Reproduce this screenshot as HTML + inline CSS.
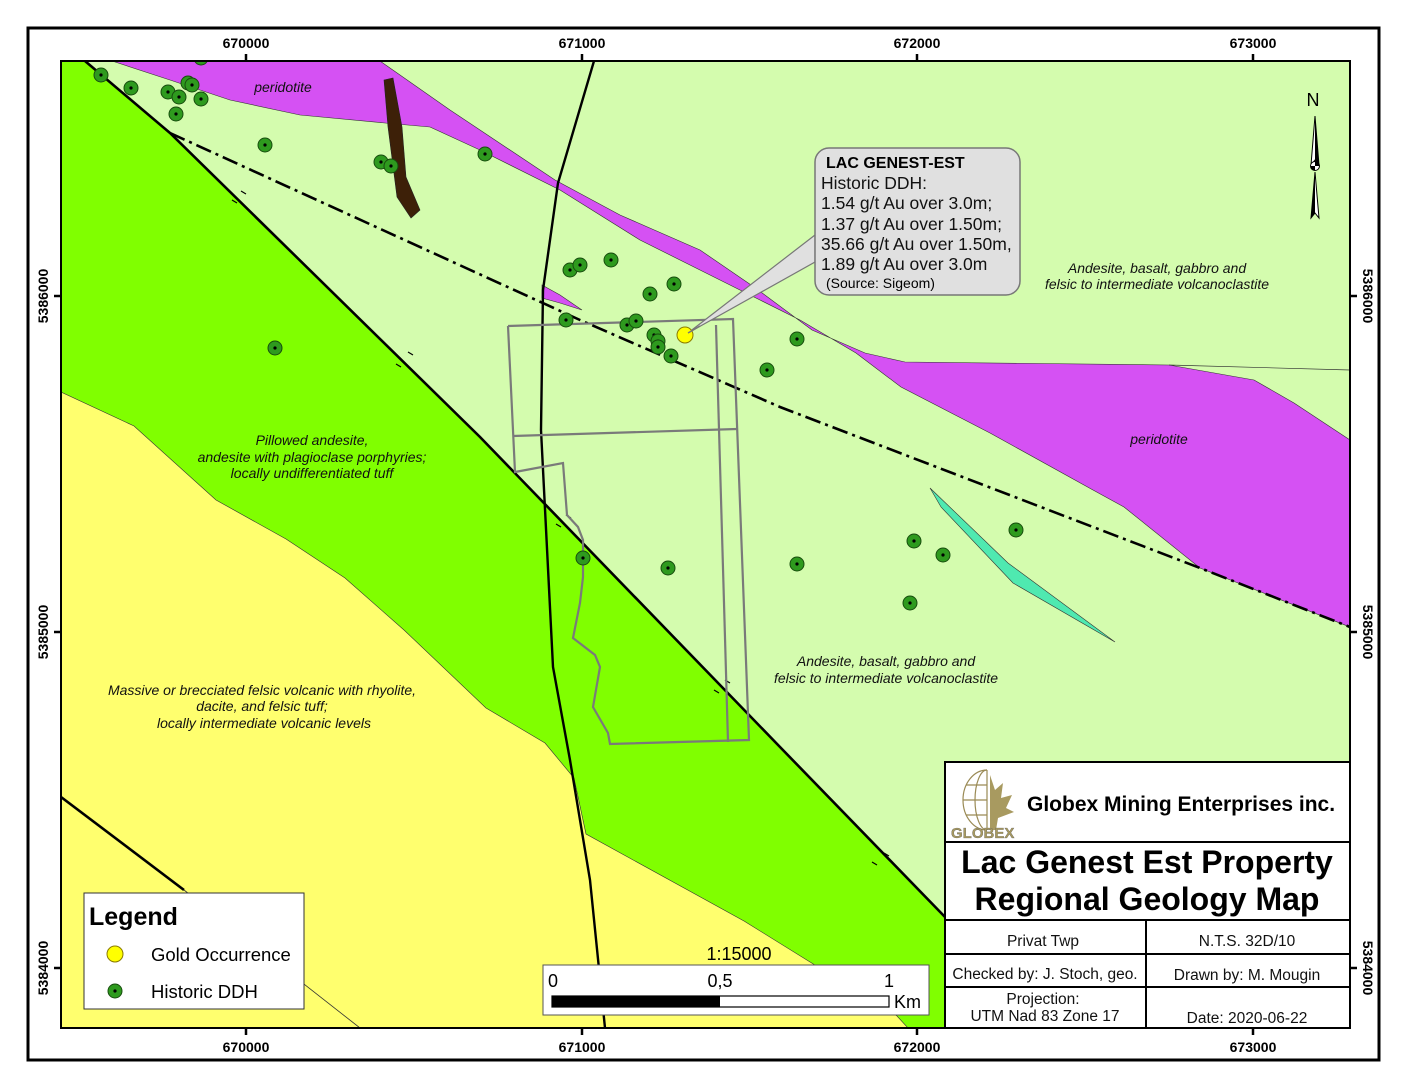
<!DOCTYPE html>
<html><head><meta charset="utf-8"><style>
html,body{margin:0;padding:0;background:#fff;}
svg{display:block;}
text{font-family:"Liberation Sans",sans-serif;}
.it{font-style:italic;font-size:14px;fill:#111;}
.cl{font-size:14px;font-weight:bold;fill:#000;}
</style></head><body>
<svg width="1408" height="1088" viewBox="0 0 1408 1088" xmlns="http://www.w3.org/2000/svg">
<defs>
<clipPath id="map"><rect x="61" y="61" width="1289" height="967"/></clipPath>
<g id="dh"><circle r="7" fill="#2e9a1e" stroke="#174d0e" stroke-width="1"/><circle r="1.6" fill="#000"/></g>
</defs>
<rect x="0" y="0" width="1408" height="1088" fill="#fff"/>
<g clip-path="url(#map)">
<rect x="61" y="61" width="1289" height="967" fill="#d4fcae"/>
<polygon points="61,61 85,61 170,133 480,437 780,747 945,917 945,1028 908,1028 897,1016 744,921 586,834 574,778 545,743 486,708 404,630 345,578 286,539 216,500 134,426 61,392" fill="#80ff00"/>
<polygon points="61,392 134,426 216,500 286,539 345,578 404,630 486,708 545,743 574,778 586,834 744,921 897,1016 908,1028 61,1028" fill="#ffff6e" stroke="#333" stroke-width="0.6"/>
<polygon points="112,61 380,61 400,75 450,110 555,180 620,215 700,250 754,287 812,330 865,353 905,362 1169,365 1254,380 1294,403 1350,440 1350,627 1200,568 1124,507 1093,490 990,433 901,387 856,353 800,320 760,300 700,270 640,240 560,190 480,150 430,127 385,123 300,115 230,100 170,80" fill="#d551f3" stroke="#333" stroke-width="0.6"/>
<polygon points="542,285 560,295 582,310 560,303 542,298" fill="#d551f3" stroke="#333" stroke-width="0.6"/>
<polyline points="1169,365 1350,370" fill="none" stroke="#333" stroke-width="0.7"/>
<polygon points="930,488 1008,563 1115,642 1013,583 941,507" fill="#4fe9b0" stroke="#333" stroke-width="0.6"/>
<polygon points="384,80 393,78 402,127 406,177 420,210 411,218 397,197 388,127" fill="#3d2008" stroke="#222" stroke-width="0.6"/>
<polyline points="85,61 170,133 480,437 780,747 945,917" fill="none" stroke="#000" stroke-width="2.6"/>
<polyline points="594,61 558,183 543,290 541,430 553,667 570,760 590,880 605,1028" fill="none" stroke="#000" stroke-width="2.4"/>
<polyline points="61,797 184,890" fill="none" stroke="#000" stroke-width="2.6"/>
<polyline points="184,890 360,1028" fill="none" stroke="#333" stroke-width="0.8"/>
<polyline points="170,133 580,320 780,407 1200,568 1350,627" fill="none" stroke="#000" stroke-width="2.6" stroke-dasharray="16,5,3,5"/>
<g stroke="#000" stroke-width="1.2" fill="none">
<path d="M241,191 l5,3 M232,200 l5,3 M408,352 l5,3 M396,364 l5,3 M566,515 l5,3 M556,524 l5,3 M725,680 l5,3 M714,690 l5,3 M884,853 l5,3 M872,862 l5,3"/>
</g>
<g fill="none" stroke="#7a7a7a" stroke-width="2.2">
<polyline points="508,326 733,319 749,740 610,744 608,733 593,707 600,667 595,655 573,638 580,603 583,577 583,540 578,527 567,515 563,463 515,472 508,326"/>
<polyline points="513,436 737,429"/>
<polyline points="716,325 728,742"/>
</g>
<polygon points="815,235 815,262 688,333" fill="#e0e0e0" stroke="#777" stroke-width="1.2"/>
<rect x="815" y="148" width="205" height="147" rx="14" fill="#e0e0e0" stroke="#777" stroke-width="1.5"/>
<rect x="816" y="236" width="4" height="25" fill="#e0e0e0"/>
<text x="826" y="168" style="font-weight:bold;font-size:16px">LAC GENEST-EST</text>
<g style="font-size:17.5px" fill="#111">
<text x="821" y="189">Historic DDH:</text>
<text x="821" y="209">1.54 g/t Au over 3.0m;</text>
<text x="821" y="230">1.37 g/t Au over 1.50m;</text>
<text x="821" y="250">35.66 g/t Au over 1.50m,</text>
<text x="821" y="270">1.89 g/t Au over 3.0m</text>
</g>
<text x="826" y="288" style="font-size:14px">(Source: Sigeom)</text>
<g>
<use href="#dh" x="101" y="75"/><use href="#dh" x="131" y="88"/><use href="#dh" x="168" y="92"/><use href="#dh" x="179" y="97"/><use href="#dh" x="188" y="83"/><use href="#dh" x="192" y="85"/><use href="#dh" x="201" y="99"/><use href="#dh" x="176" y="114"/><use href="#dh" x="201" y="58"/><use href="#dh" x="265" y="145"/><use href="#dh" x="381" y="162"/><use href="#dh" x="391" y="166"/><use href="#dh" x="485" y="154"/><use href="#dh" x="570" y="270"/><use href="#dh" x="580" y="265"/><use href="#dh" x="611" y="260"/><use href="#dh" x="650" y="294"/><use href="#dh" x="674" y="284"/><use href="#dh" x="566" y="320"/><use href="#dh" x="627" y="325"/><use href="#dh" x="636" y="321"/><use href="#dh" x="654" y="335"/><use href="#dh" x="658" y="341"/><use href="#dh" x="658" y="347"/><use href="#dh" x="671" y="356"/><use href="#dh" x="275" y="348"/><use href="#dh" x="767" y="370"/><use href="#dh" x="797" y="339"/><use href="#dh" x="914" y="541"/><use href="#dh" x="943" y="555"/><use href="#dh" x="1016" y="530"/><use href="#dh" x="797" y="564"/><use href="#dh" x="910" y="603"/><use href="#dh" x="668" y="568"/><use href="#dh" x="583" y="558"/>
</g>
<circle cx="685" cy="335" r="8" fill="#ffff00" stroke="#8a7a00" stroke-width="1"/>
<line x1="688" y1="333" x2="700" y2="326" stroke="#777" stroke-width="1.5"/>
<text class="it" x="283" y="92" text-anchor="middle">peridotite</text>
<text class="it" x="1159" y="444" text-anchor="middle">peridotite</text>
<text class="it" x="1157" y="273" text-anchor="middle">Andesite, basalt, gabbro and</text>
<text class="it" x="1157" y="289" text-anchor="middle">felsic to intermediate volcanoclastite</text>
<text class="it" x="886" y="666" text-anchor="middle">Andesite, basalt, gabbro and</text>
<text class="it" x="886" y="683" text-anchor="middle">felsic to intermediate volcanoclastite</text>
<text class="it" x="312" y="445" text-anchor="middle">Pillowed andesite,</text>
<text class="it" x="312" y="462" text-anchor="middle">andesite with plagioclase porphyries;</text>
<text class="it" x="312" y="478" text-anchor="middle">locally undifferentiated tuff</text>
<text class="it" x="262" y="695" text-anchor="middle">Massive or brecciated felsic volcanic with rhyolite,</text>
<text class="it" x="262" y="711" text-anchor="middle">dacite, and felsic tuff;</text>
<text class="it" x="264" y="728" text-anchor="middle">locally intermediate volcanic levels</text>
<text x="1313" y="106" text-anchor="middle" style="font-size:18px">N</text>
<polygon points="1315,116 1319,165 1315,160 1311,165" fill="#fff" stroke="#000" stroke-width="1"/>
<polygon points="1315,116 1319,165 1315,160" fill="#000"/>
<polygon points="1315,172 1319,218 1315,213 1311,218" fill="#fff" stroke="#000" stroke-width="1"/>
<polygon points="1315,172 1315,213 1311,218" fill="#000"/>
<circle cx="1315" cy="166" r="4.5" fill="#fff" stroke="#000"/>
<path d="M1315,166 h-4.5 a4.5,4.5 0 0,0 4.5,4.5z M1315,166 h4.5 a4.5,4.5 0 0,0 -4.5,-4.5z" fill="#000"/>
<rect x="84" y="893" width="220" height="116" fill="#fff" stroke="#333" stroke-width="1"/>
<text x="89" y="925" style="font-size:25px;font-weight:bold">Legend</text>
<circle cx="115" cy="954" r="8" fill="#ffff00" stroke="#8a7a00"/>
<text x="151" y="961" style="font-size:18.5px">Gold Occurrence</text>
<use href="#dh" x="115" y="991"/>
<text x="151" y="998" style="font-size:18.5px">Historic DDH</text>
<text x="739" y="960" text-anchor="middle" style="font-size:18px">1:15000</text>
<rect x="543" y="965" width="386" height="50" fill="#fff" stroke="#555" stroke-width="1"/>
<text x="548" y="987" style="font-size:18px">0</text>
<text x="720" y="987" text-anchor="middle" style="font-size:18px">0,5</text>
<text x="889" y="987" text-anchor="middle" style="font-size:18px">1</text>
<rect x="552" y="996" width="337" height="11" fill="#fff" stroke="#000" stroke-width="1.2"/>
<rect x="552" y="996" width="168" height="11" fill="#000"/>
<text x="894" y="1008" style="font-size:18px">Km</text>
</g>
<rect x="945" y="762" width="405" height="266" fill="#fff" stroke="#000" stroke-width="2"/>
<g stroke="#000" stroke-width="2">
<line x1="945" y1="842" x2="1350" y2="842"/>
<line x1="945" y1="920" x2="1350" y2="920"/>
<line x1="945" y1="954" x2="1350" y2="954"/>
<line x1="945" y1="987" x2="1350" y2="987"/>
<line x1="1146" y1="920" x2="1146" y2="1028"/>
</g>
<g stroke="#9a8a55" fill="none" stroke-width="1.2">
<path d="M987,770 a24,30 0 0,0 0,60"/>
<path d="M987,770 a12,30 0 0,0 0,60"/>
<line x1="987" y1="770" x2="987" y2="830"/>
<line x1="966" y1="785" x2="987" y2="785"/><line x1="963" y1="800" x2="987" y2="800"/><line x1="966" y1="815" x2="987" y2="815"/>
</g>
<polygon points="990,775 995,790 1003,783 1001,798 1012,795 1006,808 1014,812 998,818 996,830 990,830" fill="#a89a60"/>
<text x="951" y="838" style="font-size:15px;font-weight:bold;fill:#a89a60;stroke:#555;stroke-width:0.3">GLOBEX</text>
<text x="1027" y="811" style="font-size:21px;font-weight:bold">Globex Mining Enterprises inc.</text>
<text x="1147" y="873" text-anchor="middle" style="font-size:32px;font-weight:bold">Lac Genest Est Property</text>
<text x="1147" y="910" text-anchor="middle" style="font-size:32px;font-weight:bold">Regional Geology Map</text>
<g style="font-size:15.5px" fill="#111">
<text x="1043" y="946" text-anchor="middle">Privat Twp</text>
<text x="1247" y="946" text-anchor="middle">N.T.S. 32D/10</text>
<text x="1045" y="979" text-anchor="middle">Checked by: J. Stoch, geo.</text>
<text x="1247" y="980" text-anchor="middle">Drawn by: M. Mougin</text>
<text x="1043" y="1004" text-anchor="middle">Projection:</text>
<text x="1045" y="1021" text-anchor="middle">UTM Nad 83 Zone 17</text>
<text x="1247" y="1023" text-anchor="middle">Date: 2020-06-22</text>
</g>
<rect x="61" y="61" width="1289" height="967" fill="none" stroke="#000" stroke-width="2"/>
<rect x="28" y="28" width="1351" height="1032" fill="none" stroke="#000" stroke-width="3"/>
<g stroke="#000" stroke-width="2.5">
<line x1="246" y1="54" x2="246" y2="61"/><line x1="582" y1="54" x2="582" y2="61"/><line x1="917" y1="54" x2="917" y2="61"/><line x1="1253" y1="54" x2="1253" y2="61"/>
<line x1="246" y1="1028" x2="246" y2="1035"/><line x1="582" y1="1028" x2="582" y2="1035"/><line x1="917" y1="1028" x2="917" y2="1035"/><line x1="1253" y1="1028" x2="1253" y2="1035"/>
<line x1="54" y1="296" x2="61" y2="296"/><line x1="54" y1="632" x2="61" y2="632"/><line x1="54" y1="968" x2="61" y2="968"/>
<line x1="1350" y1="296" x2="1357" y2="296"/><line x1="1350" y1="632" x2="1357" y2="632"/><line x1="1350" y1="968" x2="1357" y2="968"/>
</g>
<text class="cl" x="246" y="48" text-anchor="middle">670000</text>
<text class="cl" x="582" y="48" text-anchor="middle">671000</text>
<text class="cl" x="917" y="48" text-anchor="middle">672000</text>
<text class="cl" x="1253" y="48" text-anchor="middle">673000</text>
<text class="cl" x="246" y="1052" text-anchor="middle">670000</text>
<text class="cl" x="582" y="1052" text-anchor="middle">671000</text>
<text class="cl" x="917" y="1052" text-anchor="middle">672000</text>
<text class="cl" x="1253" y="1052" text-anchor="middle">673000</text>
<text class="cl" transform="translate(48,296) rotate(-90)" text-anchor="middle">5386000</text>
<text class="cl" transform="translate(48,632) rotate(-90)" text-anchor="middle">5385000</text>
<text class="cl" transform="translate(48,968) rotate(-90)" text-anchor="middle">5384000</text>
<text class="cl" transform="translate(1363,296) rotate(90)" text-anchor="middle">5386000</text>
<text class="cl" transform="translate(1363,632) rotate(90)" text-anchor="middle">5385000</text>
<text class="cl" transform="translate(1363,968) rotate(90)" text-anchor="middle">5384000</text>
</svg>
</body></html>
